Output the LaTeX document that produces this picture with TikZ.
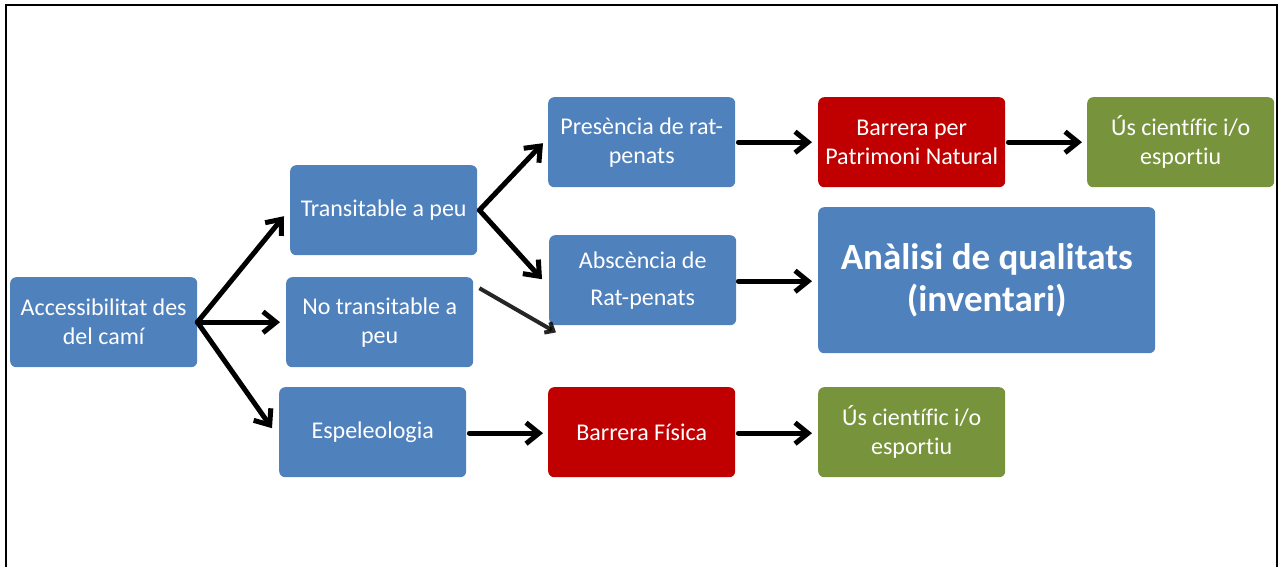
\documentclass[tikz,border=0pt]{standalone}
\usepackage{fontspec}
\setmainfont{Carlito}[Ligatures=NoCommon]
\usetikzlibrary{arrows.meta}
\definecolor{cblue}{HTML}{4F81BD}
\definecolor{cred}{HTML}{C00000}
\definecolor{cgreen}{HTML}{77933C}
\begin{document}
\begin{tikzpicture}[x=1pt,y=-1pt,
  box/.style={rounded corners=6pt, inner sep=0pt, text=white, align=center,
    anchor=north west, minimum width=187pt, minimum height=90pt,
    font=\fontsize{24}{29}\selectfont},
  bluebox/.style={box, fill=cblue},
  redbox/.style={box, fill=cred},
  greenbox/.style={box, fill=cgreen},
  arr/.style={line width=5pt, line cap=round, -{Straight Barb[length=13pt,width=21pt]}},
  ghostarr/.style={line width=4pt, black, opacity=0.85, -{Straight Barb[length=7pt,width=12pt]}},
  frame/.style={line width=2pt, black}]
\useasboundingbox (0,0) rectangle (1284,567);
\draw[frame] (6,567) -- (6,5) -- (1277,5) -- (1277,567);

\node[bluebox] (acc) at (10,277) {Accessibilitat des\\del camí};
\node[bluebox] (trans) at (290,165) {Transitable a peu};
\node[bluebox] (notrans) at (286,277) {No transitable a\\peu};
\node[bluebox] (espe) at (279,387) {Espeleologia};
\node[bluebox] (pres) at (548,97) {Presència de rat-\\penats};
\node[bluebox, font=\fontsize{24}{37}\selectfont] (absc) at (549,235) {Abscència de\\Rat-penats};
\node[redbox] (barpat) at (818,97) {Barrera per\\Patrimoni Natural};
\node[greenbox] (us1) at (1087,97) {Ús científic i/o\\esportiu};
\node[bluebox, minimum width=337pt, minimum height=146pt,
  font=\bfseries\fontsize{37}{42}\selectfont] (anal) at (818,207) {Anàlisi de qualitats\\(inventari)};
\node[redbox] (barfis) at (548,387) {Barrera Física};
\node[greenbox] (us2) at (818,387) {Ús científic i/o\\esportiu};

\draw[arr] (acc.east) -- ([shift={(-6,6)}]trans.west);
\draw[arr] (acc.east) -- ([shift={(-6,0)}]notrans.west);
\draw[arr] (acc.east) -- ([shift={(-7,-4)}]espe.west);
\draw[arr] ([shift={(2,0)}]trans.east) -- ([shift={(-5,1)}]pres.west);
\draw[arr] ([shift={(2,0)}]trans.east) -- ([shift={(-7,-1)}]absc.west);
\draw[ghostarr] ([shift={(6,-34)}]notrans.east) -- ([shift={(7,7)}]absc.south west);
\draw[arr] ([shift={(3,0)}]pres.east) -- ([shift={(-6,0)}]barpat.west);
\draw[arr] ([shift={(3,0)}]barpat.east) -- ([shift={(-5,0)}]us1.west);
\draw[arr] ([shift={(2,1)}]absc.east) -- ([shift={(-6,1)}]anal.west);
\draw[arr] ([shift={(3,1)}]espe.east) -- ([shift={(-5,1)}]barfis.west);
\draw[arr] ([shift={(3,1)}]barfis.east) -- ([shift={(-6,1)}]us2.west);
\end{tikzpicture}
\end{document}
